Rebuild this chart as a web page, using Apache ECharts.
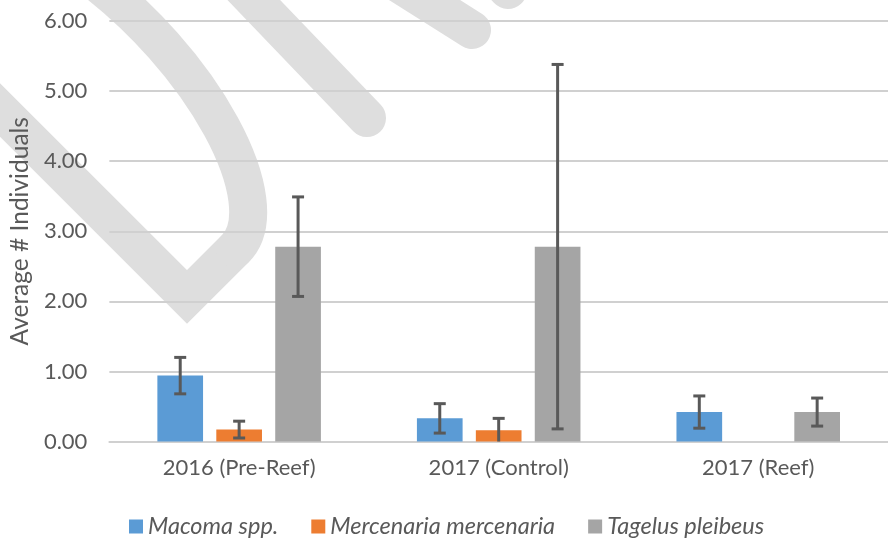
<!DOCTYPE html>
<html>
<head>
<meta charset="utf-8">
<script src="https://cdn.jsdelivr.net/npm/echarts@6/dist/echarts.min.js"></script>
<style>
html,body{margin:0;padding:0;background:#fff;}
#chart{width:888px;height:539px;}
</style>
</head>
<body>
<div id="chart"></div>
<script>
var categories = ['2016 (Pre-Reef)', '2017 (Control)', '2017 (Reef)'];
var seriesNames = ['Macoma spp.', 'Mercenaria mercenaria', 'Tagelus pleibeus'];
var macoma = [0.94, 0.33, 0.42];
var macomaErr = [0.26, 0.21, 0.23];
var mercenaria = [0.17, 0.16, 0];
var mercenariaErr = [0.12, 0.17, 0];
var tagelus = [2.78, 2.78, 0.42];
var tagelusErr = [0.71, 2.60, 0.20];
var yTicks = [0, 1, 2, 3, 4, 5, 6];

var colors = ['#5b9bd5', '#ed7d31', '#a5a5a5'];
var values = [macoma, mercenaria, tagelus];
var errors = [macomaErr, mercenariaErr, tagelusErr];
var BAR_W = 0.176, BAR_GAP = 0.29;
var FONT = 'Lato, "Open Sans", sans-serif';
var TXT = '#595959';

var chart = echarts.init(document.getElementById('chart'), null, {renderer: 'canvas'});

var series = [];
values.forEach(function (vals, i) {
  series.push({
    name: seriesNames[i], type: 'bar', data: vals,
    barWidth: (BAR_W * 100) + '%', barGap: (BAR_GAP * 100) + '%',
    itemStyle: {color: colors[i]}, z: 2
  });
});
values.forEach(function (vals, i) {
  var d = vals.map(function (v, k) { return [k, v, errors[i][k]]; });
  series.push({
    type: 'custom', z: 5, silent: true,
    data: d,
    renderItem: function (params, api) {
      var k = api.value(0), v = api.value(1), e = api.value(2);
      if (!e) return null;
      var band = api.size([1, 0])[0];
      var off = (i - 1) * band * BAR_W * (1 + BAR_GAP);
      var hi = api.coord([k, v + e]);
      var lowV = v - e;
      var clipped = lowV < 0;
      var lo = api.coord([k, Math.max(0, lowV)]);
      var x = hi[0] + off;
      var cap = 6;
      var st = {stroke: '#595959', lineWidth: 3};
      var ch = [
        {type: 'line', shape: {x1: x, y1: hi[1], x2: x, y2: lo[1]}, style: st},
        {type: 'line', shape: {x1: x - cap, y1: hi[1], x2: x + cap, y2: hi[1]}, style: st}
      ];
      if (!clipped) ch.push({type: 'line', shape: {x1: x - cap, y1: lo[1], x2: x + cap, y2: lo[1]}, style: st});
      return {type: 'group', children: ch};
    }
  });
});

var wm = {fill: null, stroke: '#dedede', lineWidth: 38, lineCap: 'round', lineJoin: 'miter'};
var option = {
  backgroundColor: '#fff',
  animation: false,
  graphic: [
    {type: 'polyline', z: -10, shape: {points: [[-40, 70], [187, 297], [235, 249]]}, style: wm},
    {type: 'bezierCurve', z: -10, shape: {x1: 235, y1: 249, cpx1: 280, cpy1: 205, cpx2: 205, cpy2: 60, x2: 80, y2: -30}, style: wm},
    {type: 'line', z: -10, shape: {x1: 225, y1: -30, x2: 367, y2: 118}, style: wm},
    {type: 'line', z: -10, shape: {x1: 385, y1: -25, x2: 472, y2: 30}, style: wm},
    {type: 'line', z: -10, shape: {x1: 475, y1: -45, x2: 508, y2: -10}, style: wm}
  ],
  grid: {left: 107, top: 21, width: 786, bottom: 97.5, containLabel: false},
  legend: {
    data: seriesNames, left: 124, top: 510, icon: 'rect', itemWidth: 14, itemHeight: 14, itemGap: 33,
    textStyle: {fontFamily: FONT, fontSize: 23.5, fontStyle: 'italic', color: TXT}
  },
  xAxis: {
    type: 'category', data: categories,
    axisLine: {show: true, lineStyle: {color: '#d0d0d0', width: 2}},
    axisTick: {show: false},
    axisLabel: {fontFamily: FONT, fontSize: 22, color: TXT, margin: 15}
  },
  yAxis: {
    type: 'value', min: yTicks[0], max: yTicks[yTicks.length - 1], interval: 1,
    name: 'Average # Individuals', nameLocation: 'middle', nameGap: 73,
    nameTextStyle: {fontFamily: FONT, fontSize: 24.5, color: TXT},
    axisLine: {show: false}, axisTick: {show: false},
    axisLabel: {fontFamily: FONT, fontSize: 22, color: TXT, margin: 22, formatter: function (v) { return v.toFixed(2); }},
    splitLine: {lineStyle: {color: '#d0d0d0', width: 2}}
  },
  series: series
};
chart.setOption(option);
</script>
</body>
</html>
